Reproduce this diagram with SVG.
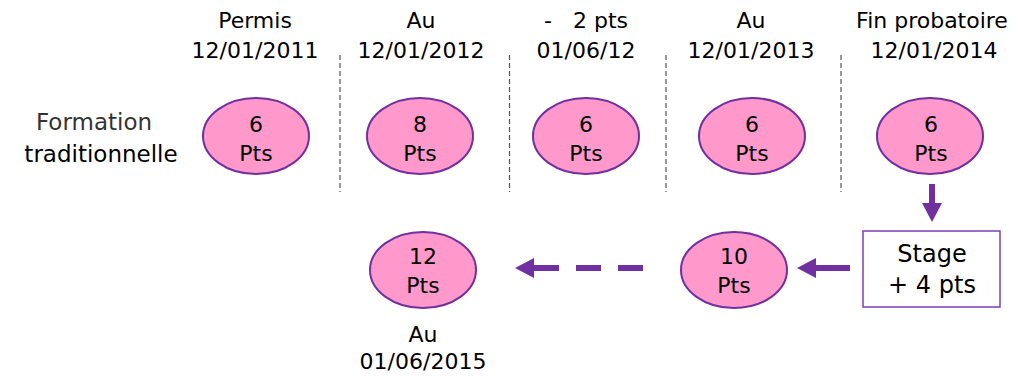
<svg xmlns="http://www.w3.org/2000/svg" width="1018" height="379" viewBox="0 0 1018 379">
<style>
.t{font-family:"DejaVu Sans","Liberation Sans",sans-serif;fill:#000;text-anchor:middle}
.h{font-size:22px}
.e{fill:#FF99CC;stroke:#7030A0;stroke-width:2}
.n{font-size:22px}
.sep{stroke:#555;stroke-width:1.2;stroke-dasharray:5 3;fill:none}
.arr{stroke:#7030A0;stroke-width:6;fill:none}
</style>
<defs>
<marker id="ah" markerUnits="userSpaceOnUse" markerWidth="19" markerHeight="20" refX="0" refY="10" orient="auto">
<path d="M0,0 L19,10 L0,20 Z" fill="#7030A0"/>
</marker>
</defs>
<rect width="1018" height="379" fill="#fff"/>
<g id="separators">
<line class="sep" x1="340" y1="55" x2="340" y2="192"/>
<line class="sep" x1="509.5" y1="55" x2="509.5" y2="192"/>
<line class="sep" x1="666" y1="55" x2="666" y2="192"/>
<line class="sep" x1="841" y1="55" x2="841" y2="192"/>
</g>
<g id="headers">
<text class="t h" x="255" y="28">Permis</text>
<text class="t h" x="255" y="58">12/01/2011</text>
<text class="t h" x="421" y="28">Au</text>
<text class="t h" x="421" y="58">12/01/2012</text>
<text class="t h" x="586" y="28" style="white-space:pre">-   2 pts</text>
<text class="t h" x="586" y="58">01/06/12</text>
<text class="t h" x="751" y="28">Au</text>
<text class="t h" x="751" y="58">12/01/2013</text>
<text class="t h" x="932" y="28">Fin probatoire</text>
<text class="t h" x="934" y="58">12/01/2014</text>
</g>
<g id="label">
<text class="t" x="94" y="130" font-size="23" style="fill:#333">Formation</text>
<text class="t" x="101" y="162" font-size="23">traditionnelle</text>
</g>
<g id="n1"><ellipse class="e" cx="256" cy="136" rx="53" ry="38"/><text class="t n" x="256" y="132">6</text><text class="t n" x="256" y="161">Pts</text></g>
<g id="n2"><ellipse class="e" cx="420" cy="136" rx="53" ry="38"/><text class="t n" x="420" y="132">8</text><text class="t n" x="420" y="161">Pts</text></g>
<g id="n3"><ellipse class="e" cx="586" cy="136" rx="53" ry="38"/><text class="t n" x="586" y="132">6</text><text class="t n" x="586" y="161">Pts</text></g>
<g id="n4"><ellipse class="e" cx="752" cy="136" rx="53" ry="38"/><text class="t n" x="752" y="132">6</text><text class="t n" x="752" y="161">Pts</text></g>
<g id="n5"><ellipse class="e" cx="930" cy="136" rx="53" ry="38"/><text class="t n" x="931" y="132">6</text><text class="t n" x="931" y="161">Pts</text></g>
<g id="stage"><rect x="863" y="231" width="137" height="76" fill="#fff" stroke="#7D3FB0" stroke-width="1.5"/><text class="t" x="932" y="262" font-size="24">Stage</text><text class="t" x="932" y="293" font-size="24">+ 4 pts</text></g>
<g id="n6"><ellipse class="e" cx="734" cy="270" rx="53" ry="38"/><text class="t n" x="734" y="264">10</text><text class="t n" x="734" y="293">Pts</text></g>
<g id="n7"><ellipse class="e" cx="423" cy="270" rx="53" ry="38"/><text class="t n" x="423" y="264">12</text><text class="t n" x="423" y="293">Pts</text><text class="t h" x="423" y="342">Au</text><text class="t h" x="423" y="369">01/06/2015</text></g>
<g id="connectors">
<line class="arr" x1="932" y1="184" x2="932" y2="203" marker-end="url(#ah)"/>
<line class="arr" x1="850" y1="268" x2="816" y2="268" marker-end="url(#ah)"/>
<line class="arr" x1="643" y1="268" x2="534" y2="268" stroke-dasharray="25 17" marker-end="url(#ah)"/>
</g>
</svg>
